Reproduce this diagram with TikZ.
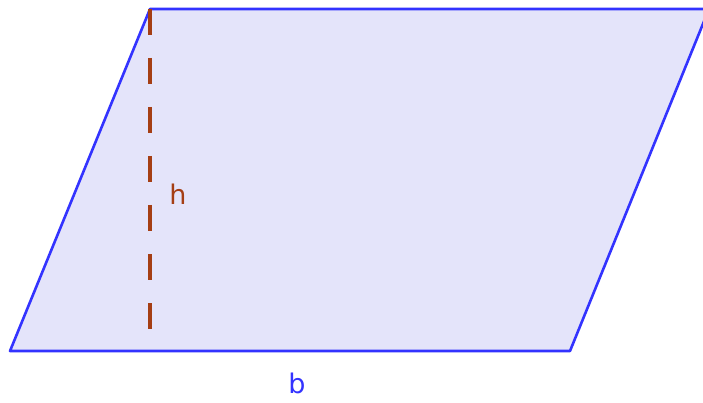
\documentclass[tikz,border=0pt]{standalone}
\usepackage{fontspec}
\setmainfont{DejaVu Sans}
\definecolor{edgeblue}{RGB}{51,51,255}
\definecolor{fillviolet}{RGB}{228,228,250}
\definecolor{hbrown}{RGB}{165,62,20}
\tikzset{
  quadbox/.style={draw=edgeblue, fill=fillviolet, line width=2.6pt, line join=round},
  heightline/.style={draw=hbrown, line width=3.2pt, dash pattern=on 26pt off 23pt},
  lbl/.style={font=\fontsize{27}{30}\selectfont, inner sep=0pt}
}
\begin{document}
\begin{tikzpicture}[x=1pt,y=-1pt]
\useasboundingbox (0,0) rectangle (703,403);
\clip (0,0) rectangle (703,403);
\coordinate (A) at (10,351);
\coordinate (B) at (570,351);
\coordinate (C) at (709,9);
\coordinate (D) at (150,9);
\coordinate (H) at (150,330);
\path[quadbox] (A) -- (B) -- (C) -- (D) -- cycle;
\draw[heightline] (D) -- (H);
\node[lbl, text=hbrown] (h) at (178,194) {h};
\node[lbl, text=edgeblue] (b) at (297,383) {b};
\end{tikzpicture}
\end{document}
